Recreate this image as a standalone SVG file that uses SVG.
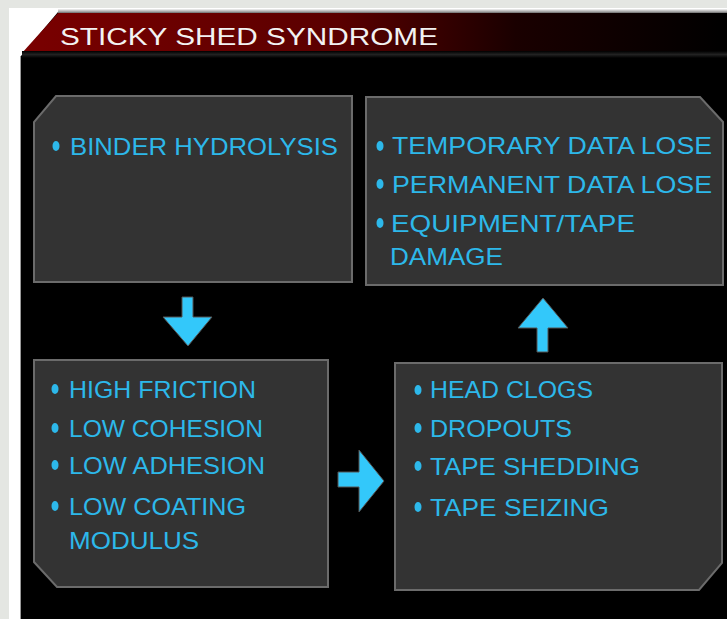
<svg xmlns="http://www.w3.org/2000/svg" width="727" height="619" viewBox="0 0 727 619">
<defs>
<linearGradient id="hdr" x1="0" y1="0" x2="1" y2="0" gradientUnits="objectBoundingBox">
<stop offset="0" stop-color="#7a0000"/>
<stop offset="0.45" stop-color="#5a0000"/>
<stop offset="0.7" stop-color="#1a0000"/>
<stop offset="1" stop-color="#000000"/>
</linearGradient>
<linearGradient id="topedge" x1="0" y1="0" x2="0" y2="1">
<stop offset="0" stop-color="#f4f4f4"/>
<stop offset="0.5" stop-color="#9a9a9a"/>
<stop offset="1" stop-color="#000000"/>
</linearGradient>
<linearGradient id="hdrline" x1="0" y1="0" x2="0" y2="1">
<stop offset="0" stop-color="#000"/>
<stop offset="0.5" stop-color="#222"/>
<stop offset="1" stop-color="#000"/>
</linearGradient>
</defs>
<style>
.box{fill:#333333;stroke:#6b6b6b;stroke-width:2}
.t{font-family:"Liberation Sans","DejaVu Sans",sans-serif;font-size:24px;fill:#2db8ea;lengthAdjust:spacingAndGlyphs}
.dot{fill:#2db8ea}
.arr{fill:#33c8fa;stroke:#555;stroke-width:1}
.title{font-family:"Liberation Sans","DejaVu Sans",sans-serif;font-size:24px;fill:#f2f2f2}
</style>
<rect x="0" y="0" width="727" height="619" fill="#e4e6e2"/>
<rect x="9" y="8" width="718" height="611" fill="#ffffff"/>
<path d="M21,619 L21,56 L58,12 L727,12 L727,619 Z" fill="#000000"/>
<rect x="58" y="9" width="669" height="6" fill="url(#topedge)"/>
<line x1="20.5" y1="56" x2="20.5" y2="619" stroke="#9a9a9a" stroke-width="1"/>
<path d="M22,53 L58,13 L727,13 L727,53 Z" fill="url(#hdr)"/>
<rect x="22" y="51" width="705" height="7" fill="url(#hdrline)"/>
<text class="title" x="60" y="45" textLength="378" lengthAdjust="spacingAndGlyphs">STICKY SHED SYNDROME</text>

<g id="connectors">
<path class="arr" d="M182,297 L193,297 L193,317 L212,317 L188,346 L163,317 L182,317 Z"/>
<path class="arr" d="M338,472 L359,472 L359,450 L384,481 L359,512 L359,487 L338,487 Z"/>
<path class="arr" d="M543,298 L568,328 L548,328 L548,352 L537,352 L537,328 L518,328 Z"/>
</g>

<g id="node-binder">
<path class="box" d="M56,96 L352,96 L352,282 L34,282 L34,122 Z"/>
<ellipse class="dot" cx="56" cy="146" rx="3.5" ry="5"/>
<text class="t" x="70" y="155" textLength="268" lengthAdjust="spacingAndGlyphs">BINDER HYDROLYSIS</text>
</g>

<g id="node-effects">
<path class="box" d="M366,97 L700,97 L723,122 L723,285 L366,285 Z"/>
<ellipse class="dot" cx="380" cy="146" rx="3.5" ry="5"/>
<text class="t" x="392" y="154" textLength="320" lengthAdjust="spacingAndGlyphs">TEMPORARY DATA LOSE</text>
<ellipse class="dot" cx="380" cy="184" rx="3.5" ry="5"/>
<text class="t" x="392" y="193" textLength="320" lengthAdjust="spacingAndGlyphs">PERMANENT DATA LOSE</text>
<ellipse class="dot" cx="380" cy="223" rx="3.5" ry="5"/>
<text class="t" x="391" y="232" textLength="244" lengthAdjust="spacingAndGlyphs">EQUIPMENT/TAPE</text>
<text class="t" x="390" y="265" textLength="113" lengthAdjust="spacingAndGlyphs">DAMAGE</text>
</g>

<g id="node-properties">
<path class="box" d="M34,360 L328,360 L328,587 L57,587 L34,562 Z"/>
<ellipse class="dot" cx="55" cy="389" rx="3.5" ry="5"/>
<text class="t" x="69" y="398" textLength="187" lengthAdjust="spacingAndGlyphs">HIGH FRICTION</text>
<ellipse class="dot" cx="55" cy="428" rx="3.5" ry="5"/>
<text class="t" x="69" y="437" textLength="194" lengthAdjust="spacingAndGlyphs">LOW COHESION</text>
<ellipse class="dot" cx="55" cy="465" rx="3.5" ry="5"/>
<text class="t" x="69" y="474" textLength="196" lengthAdjust="spacingAndGlyphs">LOW ADHESION</text>
<ellipse class="dot" cx="55" cy="506" rx="3.5" ry="5"/>
<text class="t" x="69" y="515" textLength="177" lengthAdjust="spacingAndGlyphs">LOW COATING</text>
<text class="t" x="69" y="549" textLength="130" lengthAdjust="spacingAndGlyphs">MODULUS</text>
</g>

<g id="node-symptoms">
<path class="box" d="M395,363 L722,363 L722,563 L699,590 L395,590 Z"/>
<ellipse class="dot" cx="418" cy="390" rx="3.5" ry="5"/>
<text class="t" x="430" y="398" textLength="163" lengthAdjust="spacingAndGlyphs">HEAD CLOGS</text>
<ellipse class="dot" cx="418" cy="428" rx="3.5" ry="5"/>
<text class="t" x="430" y="437" textLength="142" lengthAdjust="spacingAndGlyphs">DROPOUTS</text>
<ellipse class="dot" cx="418" cy="466" rx="3.5" ry="5"/>
<text class="t" x="430" y="475" textLength="210" lengthAdjust="spacingAndGlyphs">TAPE SHEDDING</text>
<ellipse class="dot" cx="418" cy="507" rx="3.5" ry="5"/>
<text class="t" x="430" y="516" textLength="179" lengthAdjust="spacingAndGlyphs">TAPE SEIZING</text>
</g>
</svg>
